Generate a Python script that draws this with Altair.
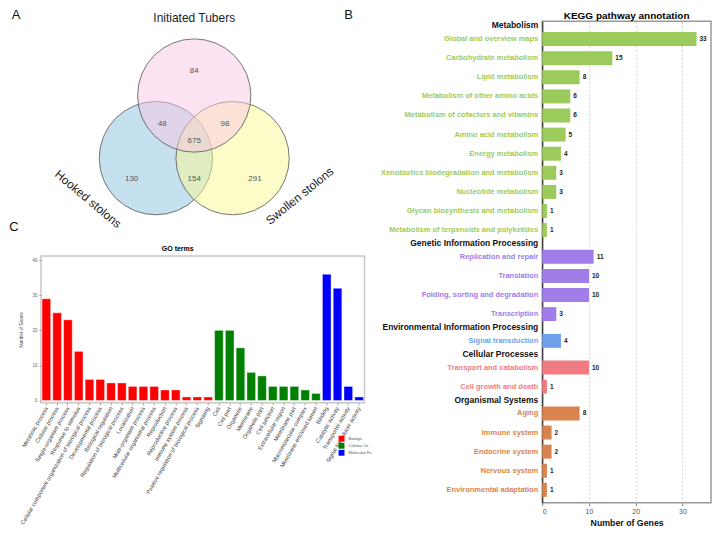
import altair as alt
import pandas as pd

FONT = "Liberation Sans"

# ---------------- Panel A: Venn diagram ----------------
venn_sets = ["Hooked stolons", "Swollen stolons", "Initiated Tubers"]
venn_center_x = [-0.6, 0.6, 0.0]
venn_center_y = [0.0, 0.0, 0.98]
venn_fill = ["#8cc2de", "#fafa94", "#f9c8e4"]

venn_counts = ["84", "48", "98", "675", "130", "154", "291"]
venn_count_x = [0.0, -0.5, 0.48, 0.0, -0.98, 0.0, 0.95]
venn_count_y = [1.36, 0.53, 0.53, 0.27, -0.33, -0.33, -0.33]

venn_label_text = ["Initiated Tubers", "Hooked stolons", "Swollen stolons"]
venn_label_x = [0.0, -1.66, 1.65]
venn_label_y = [2.2, -0.64, -0.59]
venn_label_angle = [0, 40, 321]

# ---------------- Panel C: GO terms ----------------
go_categories = ["Biological Process", "Cellular Component", "Molecular Function"]
go_colors = ["#ff0000", "#008000", "#0000ff"]
bp_terms = ["Metabolic process", "Cellular process", "Single-organism process",
            "Response to stimulus",
            "Cellular component organization of biological process",
            "Developmental process", "Biological regulation",
            "Regulation of biological process", "Localization",
            "Multi-organism process", "Multicellular organismal process",
            "Reproduction", "Reproductive process", "Immune system process",
            "Positive regulation of biological process", "Signaling"]
bp_counts = [29, 25, 23, 14, 6, 6, 5, 5, 4, 4, 4, 3, 3, 1, 1, 1]
cc_terms = ["Cell", "Cell part", "Organelle", "Membrane", "Organelle part",
            "Cell junction", "Extracellular region", "Membrane part",
            "Macromolecular complex", "Membrane-enclosed lumen"]
cc_counts = [20, 20, 15, 8, 7, 4, 4, 4, 3, 2]
mf_terms = ["Binding", "Catalytic activity", "Transporter activity",
            "Signal transducer activity"]
mf_counts = [36, 32, 4, 1]

# ---------------- Panel B: KEGG ----------------
kegg_groups = ["Metabolism", "Genetic Information Processing",
               "Environmental Information Processing", "Cellular Processes",
               "Organismal Systems"]
kegg_colors = ["#9ccb5c", "#a07de9", "#6f9feb", "#f07b80", "#d9844f"]
metabolism_terms = ["Global and overview maps", "Carbohydrate metabolism",
                    "Lipid metabolism", "Metabolism of other amino acids",
                    "Metabolism of cofactors and vitamins", "Amino acid metabolism",
                    "Energy metabolism", "Xenobiotics biodegradation and metabolism",
                    "Nucleotide metabolism", "Glycan biosynthesis and metabolism",
                    "Metabolism of terpenoids and polyketides"]
metabolism_counts = [33, 15, 8, 6, 6, 5, 4, 3, 3, 1, 1]
genetic_terms = ["Replication and repair", "Translation",
                 "Folding, sorting and degradation", "Transcription"]
genetic_counts = [11, 10, 10, 3]
environmental_terms = ["Signal transduction"]
environmental_counts = [4]
cellular_terms = ["Transport and catabolism", "Cell growth and death"]
cellular_counts = [10, 1]
organismal_terms = ["Aging", "Immune system", "Endocrine system",
                    "Nervous system", "Environmental adaptation"]
organismal_counts = [8, 2, 2, 1, 1]

# ======================================================================
# Venn chart
venn_df = pd.DataFrame({"set": venn_sets, "cx": venn_center_x, "cy": venn_center_y})
count_df = pd.DataFrame({"n": venn_counts, "x": venn_count_x, "y": venn_count_y})
vlabel_df = pd.DataFrame({"t": venn_label_text, "x": venn_label_x,
                          "y": venn_label_y, "a": venn_label_angle})

vx = alt.Scale(domain=[-2.398, 2.664], nice=False, zero=False)
vy = alt.Scale(domain=[-1.453, 2.1406], nice=False, zero=False)

circles = alt.Chart(venn_df).mark_circle(
    size=12868, opacity=1, fillOpacity=0.5, stroke="#555555",
    strokeWidth=0.8, strokeOpacity=1
).encode(
    x=alt.X("cx:Q", scale=vx, axis=None),
    y=alt.Y("cy:Q", scale=vy, axis=None),
    color=alt.Color("set:N", scale=alt.Scale(domain=venn_sets, range=venn_fill),
                    legend=None),
)
counts = alt.Chart(count_df).mark_text(fontSize=8, color="#555555").encode(
    x=alt.X("x:Q", scale=vx, axis=None),
    y=alt.Y("y:Q", scale=vy, axis=None),
    text="n:N",
)
set_labels = alt.Chart(vlabel_df).mark_text(fontSize=12, color="#222222").encode(
    x=alt.X("x:Q", scale=vx, axis=None),
    y=alt.Y("y:Q", scale=vy, axis=None),
    text="t:N",
    angle=alt.Angle("a:Q", scale=None),
)
letter_a = alt.Chart(pd.DataFrame({"L": ["A"]})).mark_text(fontSize=13, color="#111").encode(
    x=alt.value(-25), y=alt.value(-6), text="L:N")
letter_b = alt.Chart(pd.DataFrame({"L": ["B"]})).mark_text(fontSize=13, color="#111").encode(
    x=alt.value(308), y=alt.value(-6), text="L:N")
letter_c = alt.Chart(pd.DataFrame({"L": ["C"]})).mark_text(fontSize=13, color="#111").encode(
    x=alt.value(-27), y=alt.value(206), text="L:N")

venn = alt.layer(circles, counts, set_labels, letter_a, letter_b, letter_c).properties(
    width=324, height=230,
    view=alt.ViewBackground(stroke="transparent"),
)

# ======================================================================
# GO chart
go_rows = []
for cat, terms, vals in zip(go_categories, [bp_terms, cc_terms, mf_terms],
                            [bp_counts, cc_counts, mf_counts]):
    for t, v in zip(terms, vals):
        go_rows.append({"term": t, "count": v, "category": cat})
go_df = pd.DataFrame(go_rows)
go_order = list(go_df["term"])

legend_expr = ("datum.label == 'Biological Process' ? 'Biologic' : "
               "datum.label == 'Cellular Component' ? 'Cellular Co' : 'Molecular Fu'")

go = alt.Chart(go_df).mark_bar(stroke="white", strokeWidth=0.4).encode(
    x=alt.X("term:N", sort=go_order,
            scale=alt.Scale(paddingInner=0.2, paddingOuter=0.1),
            axis=alt.Axis(title=None, labelAngle=-60, labelAlign="right",
                          labelBaseline="middle", labelFontSize=5.7,
                          labelColor="#444444", tickSize=2, tickColor="#999999",
                          domain=False, labelPadding=2, labelLimit=0)),
    y=alt.Y("count:Q", scale=alt.Scale(domain=[-0.67, 41.2], nice=False, zero=False),
            axis=alt.Axis(values=[0, 10, 20, 30, 40], title="Number of Genes",
                          titleFontSize=4.5, titleFontWeight="normal",
                          titleColor="#444444", labelFontSize=4.5,
                          labelColor="#666666", tickSize=2, tickColor="#999999",
                          grid=False, domain=False, titlePadding=8)),
    color=alt.Color("category:N",
                    scale=alt.Scale(domain=go_categories, range=go_colors),
                    legend=alt.Legend(title=None, orient="none", legendX=298,
                                      legendY=180, symbolType="square",
                                      symbolSize=35, symbolStrokeWidth=0,
                                      labelFontSize=4, labelColor="#555555",
                                      rowPadding=1, labelExpr=legend_expr)),
).properties(
    width=324, height=147,
    title=alt.TitleParams("GO terms", fontSize=7, fontWeight="bold",
                          anchor="middle", offset=4, dx=-25),
    view=alt.ViewBackground(stroke="#c8c8c8", strokeWidth=1.5),
)

# ======================================================================
# KEGG chart
rows, headers = [], []
k = 0
for g, (grp, terms, vals) in enumerate(zip(
        kegg_groups,
        [metabolism_terms, genetic_terms, environmental_terms, cellular_terms, organismal_terms],
        [metabolism_counts, genetic_counts, environmental_counts, cellular_counts, organismal_counts])):
    first = None
    for t, v in zip(terms, vals):
        pos = k + 0.4 * g + 1
        if first is None:
            first = pos
        rows.append({"term": t, "count": v, "group": grp, "pos": pos})
        k += 1
    headers.append({"term": grp, "pos": first - 0.73})
kegg_df = pd.DataFrame(rows)
head_df = pd.DataFrame(headers)

kx_scale = alt.Scale(domain=[0, 36.1], nice=False, zero=False)
ky = alt.Y("pos:Q", scale=alt.Scale(domain=[0.332, 25.01], reverse=True, nice=False, zero=False),
           axis=alt.Axis(labels=False, ticks=False, title=None, grid=False,
                         domainColor="#333333", domainWidth=1.2))
kcolor = alt.Color("group:N", scale=alt.Scale(domain=kegg_groups, range=kegg_colors),
                   legend=None)

kbars = alt.Chart(kegg_df).mark_bar(orient="horizontal", size=14).encode(
    x=alt.X("count:Q", scale=kx_scale,
            axis=alt.Axis(values=[0, 5, 10, 15, 20, 25, 30, 35],
                          title="Number of Genes", titleFontSize=8.8,
                          titleFontWeight="bold", titleColor="#111111",
                          labelFontSize=7, labelColor="#555555",
                          tickSize=3, tickColor="#888888", domain=False,
                          grid=True, gridDash=[2, 2], gridColor="#d4d4d4",
                          titlePadding=4)),
    y=ky,
    color=kcolor,
)
kvals = alt.Chart(kegg_df).mark_text(align="left", dx=3, fontSize=6.5,
                                     fontWeight="bold", color="#222222").encode(
    x=alt.X("count:Q", scale=kx_scale), y=ky, text="count:Q")
klabels = alt.Chart(kegg_df).mark_text(align="right", dx=-4, fontSize=7.5,
                                       fontWeight="bold").encode(
    x=alt.datum(0), y=ky, text="term:N", color=kcolor)
kheads = alt.Chart(head_df).mark_text(align="right", dx=-4, fontSize=8.5,
                                      fontWeight="bold", color="#111111").encode(
    x=alt.datum(0), y=ky, text="term:N")

kegg = alt.layer(kbars, kvals, klabels, kheads).properties(
    width=169, height=482,
    title=alt.TitleParams("KEGG pathway annotation", fontSize=10, fontWeight="bold",
                          anchor="middle", offset=0),
    view=alt.ViewBackground(stroke="#999999", strokeWidth=1.5),
)

left = alt.vconcat(venn, go, spacing=5, bounds="flush").resolve_scale(color="independent")
chart = alt.hconcat(left, kegg, spacing=502, bounds="flush").resolve_scale(
    color="independent"
).properties(padding=0, background="white").configure(font=FONT)

chart.save("out.html", embed_options={"renderer": "svg", "actions": False})
